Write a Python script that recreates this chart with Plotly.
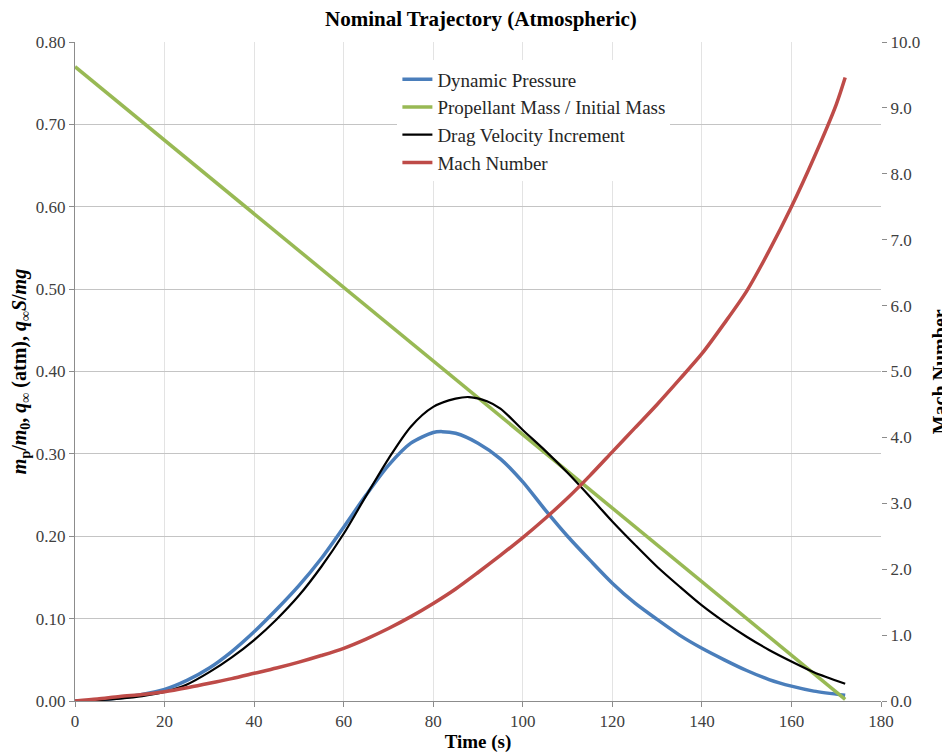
import plotly.graph_objects as go

# ---- data ----
t_q = [0, 5, 10, 15, 20, 25, 30, 35, 40, 45, 50, 55, 60, 65, 70, 75, 80, 82, 85, 90, 95, 100,
       105, 110, 115, 120, 125, 130, 135, 140, 145, 150, 155, 160, 165, 172]
dyn_pressure = [0, 0.001, 0.004, 0.008, 0.014, 0.025, 0.040, 0.060, 0.084, 0.111, 0.140, 0.173,
                0.211, 0.250, 0.286, 0.313, 0.326, 0.327, 0.325, 0.313, 0.294, 0.266, 0.232,
                0.200, 0.171, 0.143, 0.119, 0.099, 0.080, 0.064, 0.050, 0.037, 0.026, 0.018,
                0.012, 0.007]

t_m = [0, 172]
prop_mass = [0.770, 0.002]

t_d = [0, 5, 10, 15, 20, 25, 30, 35, 40, 45, 50, 55, 60, 65, 70, 75, 80, 85, 88, 92, 95, 100,
       105, 110, 115, 120, 125, 130, 135, 140, 145, 150, 155, 160, 165, 172]
drag_dv = [0, 0.001, 0.003, 0.006, 0.011, 0.020, 0.035, 0.053, 0.074, 0.099, 0.128, 0.163,
           0.203, 0.249, 0.294, 0.333, 0.357, 0.367, 0.369, 0.364, 0.355, 0.329, 0.304, 0.277,
           0.248, 0.218, 0.190, 0.163, 0.139, 0.116, 0.096, 0.078, 0.062, 0.048, 0.035, 0.021]

t_mach = [0, 5, 10, 15, 20, 25, 30, 35, 40, 45, 50, 55, 60, 65, 70, 75, 80, 85, 90, 95, 100,
          105, 110, 115, 120, 125, 130, 135, 140, 145, 150, 155, 160, 165, 170, 172]
mach = [0, 0.03, 0.07, 0.10, 0.14, 0.20, 0.27, 0.34, 0.42, 0.50, 0.59, 0.69, 0.80, 0.94, 1.10,
        1.28, 1.48, 1.70, 1.95, 2.21, 2.48, 2.77, 3.08, 3.42, 3.78, 4.14, 4.50, 4.88, 5.27,
        5.73, 6.22, 6.83, 7.50, 8.24, 9.05, 9.46]

FONT = "Liberation Serif, Times New Roman, serif"

fig = go.Figure()
fig.add_trace(go.Scatter(x=t_q, y=dyn_pressure, mode="lines", name="Dynamic Pressure",
                         line=dict(color="#4a7ebb", width=3.5, shape="spline", smoothing=0.8),
                         legendgroup="a"))
fig.add_trace(go.Scatter(x=t_m, y=prop_mass, mode="lines", name="Propellant Mass / Initial Mass",
                         line=dict(color="#98b954", width=3.5), legendgroup="b"))
fig.add_trace(go.Scatter(x=t_d, y=drag_dv, mode="lines", name="Drag Velocity Increment",
                         line=dict(color="#000000", width=2.2, shape="spline", smoothing=0.8),
                         legendgroup="c"))
fig.add_trace(go.Scatter(x=t_mach, y=mach, mode="lines", name="Mach Number", yaxis="y2",
                         line=dict(color="#be4b48", width=3.5, shape="spline", smoothing=0.8),
                         legendgroup="d"))

# page body has an 8px default margin, so the figure is sized to fit the window
fig.update_layout(
    width=942, height=745,
    margin=dict(l=67, r=69, t=34, b=52),
    paper_bgcolor="white", plot_bgcolor="white",
    font=dict(family=FONT, size=17, color="#404040"),
    title=dict(text="<b>Nominal Trajectory (Atmospheric)</b>", x=0.502, xanchor="center",
               y=0.986, yanchor="middle", font=dict(family=FONT, size=21, color="#000000")),
    xaxis=dict(range=[0, 180], dtick=20, tick0=0, showgrid=True, gridcolor="#e3e3e3",
               gridwidth=1, showline=True, linecolor="#8c8c8c", ticks="outside",
               tickcolor="#8c8c8c", ticklen=5, zeroline=False, automargin=False,
               tickfont=dict(family=FONT, size=17, color="#404040"),
               title=dict(text="<b>Time (s)</b>",
                          font=dict(family=FONT, size=19, color="#000000"))),
    yaxis=dict(range=[0, 0.8], dtick=0.1, tick0=0, tickformat=".2f", showgrid=True,
               gridcolor="#c4c4c4", gridwidth=1, showline=True, linecolor="#8c8c8c",
               ticks="outside", tickcolor="#8c8c8c", ticklen=5, zeroline=False,
               automargin=False,
               tickfont=dict(family=FONT, size=17, color="#404040"),
               title=dict(text="<b><i>m</i><sub>p</sub>/<i>m</i><sub>0</sub>, <i>q</i><sub>∞</sub> (atm), "
                               "<i>q</i><sub>∞</sub><i>S</i>/<i>mg</i></b>",
                          font=dict(family=FONT, size=20, color="#000000"))),
    yaxis2=dict(range=[0, 10], dtick=1, tick0=0, tickformat=".1f", overlaying="y", side="right",
                showgrid=False, showline=False, ticks="outside", tickcolor="#8c8c8c", ticklen=5,
                zeroline=False, automargin=False,
                tickfont=dict(family=FONT, size=17, color="#404040")),
    legend=dict(x=0.40, y=0.972, xanchor="left", yanchor="top", bgcolor="white",
                borderwidth=0, tracegroupgap=6, traceorder="normal",
                font=dict(family=FONT, size=19, color="#262626")),
    showlegend=True,
    annotations=[dict(text="<b>Mach Number</b>", xref="paper", yref="paper",
                      x=1.073, y=0.5, xanchor="center", yanchor="middle", textangle=-90,
                      showarrow=False, font=dict(family=FONT, size=20, color="#000000"))],
)

fig.write_html("out.html")
